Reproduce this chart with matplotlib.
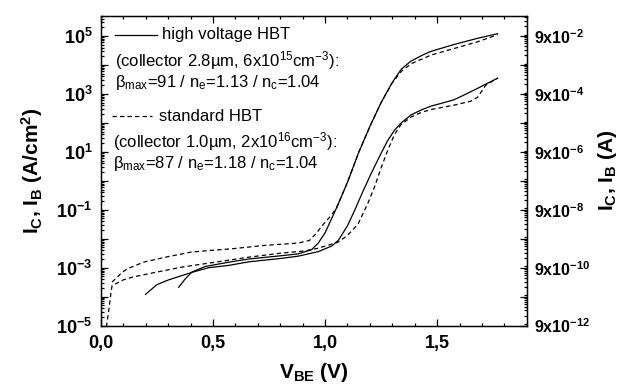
import matplotlib
matplotlib.use('Agg')
import matplotlib.pyplot as plt
from matplotlib.ticker import FixedLocator, FixedFormatter, LogLocator, NullFormatter, MultipleLocator

plt.rcParams['font.family'] = 'Liberation Sans'
plt.rcParams['mathtext.fontset'] = 'custom'
plt.rcParams['mathtext.rm'] = 'Liberation Sans'
plt.rcParams['mathtext.it'] = 'Liberation Sans:italic'
plt.rcParams['mathtext.bf'] = 'Liberation Sans:bold'
plt.rcParams['mathtext.default'] = 'regular'

# collector current density, high voltage HBT (A/cm^2)
v_ic_hv = [0.347, 0.375, 0.406, 0.465, 0.57, 0.66, 0.806, 0.88, 0.94, 0.97, 1.0, 1.05, 1.10,
           1.15, 1.20, 1.25, 1.30, 1.34, 1.38, 1.43, 1.47, 1.53, 1.58, 1.68, 1.77]
ic_hv = [2.1e-4, 4.0e-4, 7.1e-4, 1.1e-3, 1.55e-3, 2.0e-3, 2.6e-3, 3.0e-3, 4.2e-3, 7.1e-3, 1.6e-2,
         0.11, 0.89, 9.5, 75, 500, 2500, 7100, 1.3e4, 2.1e4, 2.9e4, 4.0e4, 5.2e4, 8.3e4, 1.2e5]

# collector current density, standard HBT
v_ic_std = [0.05, 0.095, 0.117, 0.19, 0.287, 0.406, 0.584, 0.732, 0.88, 0.93, 0.96, 0.99, 1.02,
            1.05, 1.10, 1.15, 1.20, 1.25, 1.30, 1.34, 1.384, 1.473, 1.576, 1.68, 1.77]
ic_std = [3.2e-4, 6.9e-4, 9.1e-4, 1.55e-3, 2.3e-3, 3.5e-3, 4.5e-3, 5.9e-3, 7.1e-3, 8.7e-3, 1.5e-2,
          3.0e-2, 5.5e-2, 0.11, 0.89, 9.5, 75, 500, 2400, 6000, 1.1e4, 2.2e4, 3.7e4, 6.3e4, 1.1e5]

# base current density, high voltage HBT
v_ib_hv = [0.199, 0.25, 0.302, 0.406, 0.48, 0.57, 0.66, 0.806, 0.88, 0.97, 1.03, 1.06, 1.10,
           1.132, 1.17, 1.206, 1.25, 1.28, 1.31, 1.34, 1.384, 1.43, 1.473, 1.53, 1.576, 1.63,
           1.68, 1.77]
ib_hv = [1.2e-4, 2.6e-4, 3.8e-4, 6.9e-4, 1.0e-3, 1.2e-3, 1.6e-3, 2.1e-3, 2.5e-3, 3.6e-3, 5.6e-3,
         8.9e-3, 2.8e-2, 9.5e-2, 0.45, 1.8, 8.9, 25, 56, 100, 190, 280, 380, 500, 630, 1000,
         1550, 3500]

# base current density, standard HBT
v_ib_std = [0.02, 0.036, 0.046, 0.05, 0.10, 0.14, 0.213, 0.361, 0.51, 0.658, 0.806, 0.91, 0.969,
            1.058, 1.10, 1.147, 1.19, 1.221, 1.25, 1.28, 1.31, 1.34, 1.384, 1.43, 1.473, 1.576,
            1.65, 1.68, 1.717, 1.77]
ib_std = [5e-6, 3.8e-5, 1.6e-4, 2.4e-4, 3.8e-4, 4.7e-4, 6.2e-4, 1.05e-3, 1.55e-3, 2.3e-3, 3.2e-3,
          3.8e-3, 4.7e-3, 7.6e-3, 1.3e-2, 3.2e-2, 0.16, 0.62, 2.8, 11.5, 40, 89, 160, 230, 290,
          410, 560, 760, 2000, 3500]

area = 9e-7  # cm^2, for the current axis on the right
ylo, yhi = 1e-5, 5e5

left_ticks = [10.0 ** k for k in range(-5, 6)]
left_labels = [r'$\mathbf{10^{%d}}$' % k if k % 2 else '' for k in range(-5, 6)]
right_ticks = [9 * 10.0 ** k for k in range(-12, -1)]
right_labels = [r'$\mathbf{9x10^{%d}}$' % k if k % 2 == 0 else '' for k in range(-12, -1)]
x_ticks = [0.0, 0.5, 1.0, 1.5]
x_labels = ['0,0', '0,5', '1,0', '1,5']

fig = plt.figure(figsize=(6.19, 3.84), dpi=100)
ax = fig.add_axes([0.163, 0.152, 0.688, 0.807])

dash = (0, (3.5, 2.5))
ax.semilogy(v_ic_hv, ic_hv, color='k', lw=0.9)
ax.semilogy(v_ib_hv, ib_hv, color='k', lw=0.9)
ax.semilogy(v_ic_std, ic_std, color='k', lw=0.9, ls=dash)
ax.semilogy(v_ib_std, ib_std, color='k', lw=0.9, ls=dash)

ax.set_xlim(0, 1.9)
ax.set_ylim(ylo, yhi)
ax.xaxis.set_major_locator(FixedLocator(x_ticks))
ax.xaxis.set_major_formatter(FixedFormatter(x_labels))
ax.xaxis.set_minor_locator(MultipleLocator(0.1))
ax.yaxis.set_major_locator(FixedLocator(left_ticks))
ax.yaxis.set_major_formatter(FixedFormatter(left_labels))
ax.yaxis.set_minor_locator(LogLocator(base=10, subs=range(2, 10), numticks=30))
ax.yaxis.set_minor_formatter(NullFormatter())
ax.tick_params(which='both', direction='in', top=True, right=False, width=0.9)
ax.tick_params(which='major', length=5, labelsize=13, pad=6)
ax.tick_params(which='minor', length=2.5)
ax.tick_params(axis='x', which='major', pad=7)
for lab in ax.get_xticklabels():
    lab.set_fontweight('bold')
for sp in ax.spines.values():
    sp.set_linewidth(1.0)

ax.set_xlabel(r'V$_{\mathbf{BE}}$ (V)', fontsize=15, fontweight='bold', labelpad=6)
ax.set_ylabel(r'I$_{\mathbf{C}}$, I$_{\mathbf{B}}$ (A/cm$^{\mathbf{2}}$)', fontsize=15,
              fontweight='bold', labelpad=8)

ax2 = ax.twinx()
ax2.set_yscale('log')
ax2.set_ylim(ylo * area, yhi * area)
ax2.yaxis.set_major_locator(FixedLocator(right_ticks))
ax2.yaxis.set_major_formatter(FixedFormatter(right_labels))
ax2.yaxis.set_minor_locator(LogLocator(base=10, subs=range(1, 10), numticks=30))
ax2.yaxis.set_minor_formatter(NullFormatter())
ax2.tick_params(which='both', direction='in', width=0.9)
ax2.tick_params(which='major', length=5, labelsize=11.5, pad=5)
ax2.tick_params(which='minor', length=2.5)
ax2.set_ylabel(r'I$_{\mathbf{C}}$, I$_{\mathbf{B}}$ (A)', fontsize=15, fontweight='bold', labelpad=4)

fs = 12
ax.plot([0.033, 0.131], [0.938, 0.938], color='k', lw=0.9, transform=ax.transAxes)
ax.text(0.143, 0.938, 'high voltage HBT', fontsize=fs, va='center', transform=ax.transAxes)
ax.text(0.033, 0.857, '(collector 2.8µm, 6x10$^{15}$cm$^{-3}$):', fontsize=fs, va='center',
        transform=ax.transAxes)
ax.text(0.033, 0.786, r'$\beta_{max}$=91 / n$_{e}$=1.13 / n$_{c}$=1.04', fontsize=fs, va='center',
        transform=ax.transAxes)
ax.plot([0.026, 0.120], [0.676, 0.676], color='k', lw=0.9, ls=dash, transform=ax.transAxes)
ax.text(0.136, 0.676, 'standard HBT', fontsize=fs, va='center', transform=ax.transAxes)
ax.text(0.028, 0.593, '(collector 1.0µm, 2x10$^{16}$cm$^{-3}$):', fontsize=fs, va='center',
        transform=ax.transAxes)
ax.text(0.028, 0.522, r'$\beta_{max}$=87 / n$_{e}$=1.18 / n$_{c}$=1.04', fontsize=fs, va='center',
        transform=ax.transAxes)

fig.savefig('out.png', dpi=100)
